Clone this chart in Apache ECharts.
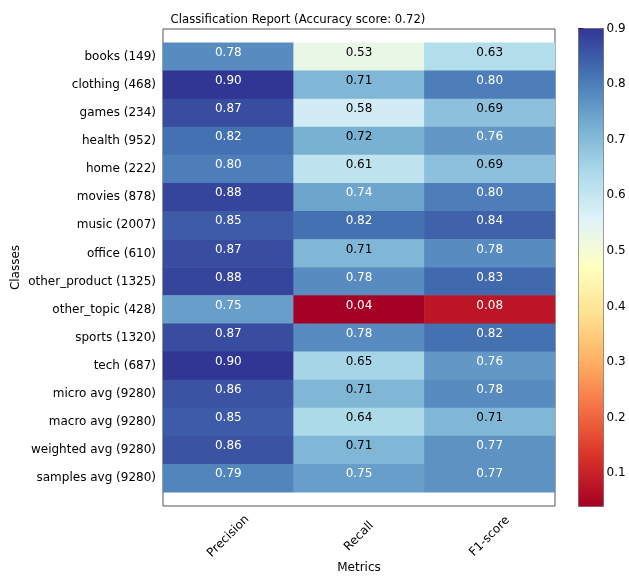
<!DOCTYPE html>
<html>
<head>
<meta charset="utf-8">
<script src="https://cdn.jsdelivr.net/npm/echarts@6/dist/echarts.min.js"></script>
<style>
  html, body { margin: 0; padding: 0; background: #fff; }
  #mychart { width: 629px; height: 576px; }
</style>
</head>
<body>
<div id="mychart"></div>
<script>
"use strict";
const classes = ['books (149)', 'clothing (468)', 'games (234)', 'health (952)', 'home (222)',
    'movies (878)', 'music (2007)', 'office (610)', 'other_product (1325)', 'other_topic (428)',
    'sports (1320)', 'tech (687)', 'micro avg (9280)', 'macro avg (9280)', 'weighted avg (9280)',
    'samples avg (9280)'];
const metrics = ['Precision', 'Recall', 'F1-score'];
const precision = [0.78, 0.90, 0.87, 0.82, 0.80, 0.88, 0.85, 0.87, 0.88, 0.75, 0.87, 0.90, 0.86, 0.85, 0.86, 0.79];
const recall = [0.53, 0.71, 0.58, 0.72, 0.61, 0.74, 0.82, 0.71, 0.78, 0.04, 0.78, 0.65, 0.71, 0.64, 0.71, 0.75];
const f1score = [0.63, 0.80, 0.69, 0.76, 0.69, 0.80, 0.84, 0.78, 0.83, 0.08, 0.82, 0.76, 0.78, 0.71, 0.77, 0.77];
const colorbarTicks = [0.1, 0.2, 0.3, 0.4, 0.5, 0.6, 0.7, 0.8, 0.9];
const vmin = 0.04;
const vmax = 0.90;

// RdYlBu
const rdylbu = ['#a50026', '#d73027', '#f46d43', '#fdae61', '#fee090', '#ffffbf',
    '#e0f3f8', '#abd9e9', '#74add1', '#4575b4', '#313695'];

const font = 'DejaVu Sans';
const columns = [precision, recall, f1score];
const cells = [];
columns.forEach((col, x) => {
    col.forEach((v, y) => {
        // dark text only on light cells
        const dark = v > 0.45 && v < 0.735;
        cells.push({
            value: [x, y, v],
            label: { color: dark ? '#000' : '#fff' }
        });
    });
});

const container = document.getElementById('mychart');
const myChart = echarts.init(container);
const option = {
    animation: false,
    title: {
        text: 'Classification Report (Accuracy score: 0.72)',
        left: 298,
        top: 14,
        padding: 0,
        textAlign: 'center',
        textStyle: { fontFamily: font, fontSize: 11.7, fontWeight: 'normal', color: '#000' }
    },
    grid: [
        { left: 163, top: 42.7, width: 392, height: 449.6, outerBoundsMode: 'none' },
        { left: 163, top: 29, width: 392, height: 477, outerBoundsMode: 'none', show: true, borderColor: '#555', borderWidth: 1, backgroundColor: 'transparent' },
        { left: 578.5, top: 28.5, width: 25, height: 478, outerBoundsMode: 'none', show: true, borderColor: '#666', borderWidth: 1, backgroundColor: 'transparent' }
    ],
    xAxis: [
        {
            type: 'category',
            gridIndex: 0,
            data: metrics,
            offset: 14,
            name: 'Metrics',
            nameLocation: 'middle',
            nameGap: 56,
            nameMoveOverlap: false,
            nameTextStyle: { fontFamily: font, fontSize: 12, color: '#000' },
            axisLine: { show: false },
            axisTick: { alignWithLabel: true, length: 5, lineStyle: { color: '#000' } },
            axisLabel: {
                rotate: 45, align: 'center', verticalAlign: 'middle', margin: 30,
                fontFamily: font, fontSize: 12, color: '#000'
            },
            splitLine: { show: false }
        },
        { type: 'value', gridIndex: 1, show: false },
        { type: 'value', gridIndex: 2, show: false }
    ],
    yAxis: [
        {
            type: 'category',
            gridIndex: 0,
            data: classes,
            inverse: true,
            name: 'Classes',
            nameLocation: 'middle',
            nameGap: 141,
            nameMoveOverlap: false,
            nameRotate: 90,
            nameTextStyle: { fontFamily: font, fontSize: 12, color: '#000' },
            axisLine: { show: false },
            axisTick: { alignWithLabel: true, length: 5, lineStyle: { color: '#000' } },
            axisLabel: { margin: 7, fontFamily: font, fontSize: 12, color: '#000' },
            splitLine: { show: false }
        },
        { type: 'value', gridIndex: 1, show: false },
        {
            type: 'value',
            gridIndex: 2,
            position: 'right',
            min: vmin,
            max: vmax,
            axisLine: { show: false },
            axisTick: { show: true, length: 5, customValues: colorbarTicks, lineStyle: { color: '#000' } },
            axisLabel: {
                margin: 3, fontFamily: font, fontSize: 12, color: '#000',
                customValues: colorbarTicks,
                formatter: v => v.toFixed(1)
            },
            splitLine: { show: false }
        }
    ],
    visualMap: {
        type: 'continuous',
        min: vmin,
        max: vmax,
        calculable: false,
        seriesIndex: 0,
        left: 578.5,
        top: 28.5,
        padding: 0,
        itemWidth: 25,
        itemHeight: 478,
        text: ['', ''],
        inRange: { color: rdylbu }
    },
    series: [
        {
            type: 'heatmap',
            xAxisIndex: 0,
            yAxisIndex: 0,
            data: cells,
            label: {
                show: true,
                offset: [0, -4],
                fontFamily: font,
                fontSize: 12,
                formatter: p => p.value[2].toFixed(2)
            },
            emphasis: { disabled: true }
        }
    ]
};
myChart.setOption(option);
</script>
</body>
</html>
